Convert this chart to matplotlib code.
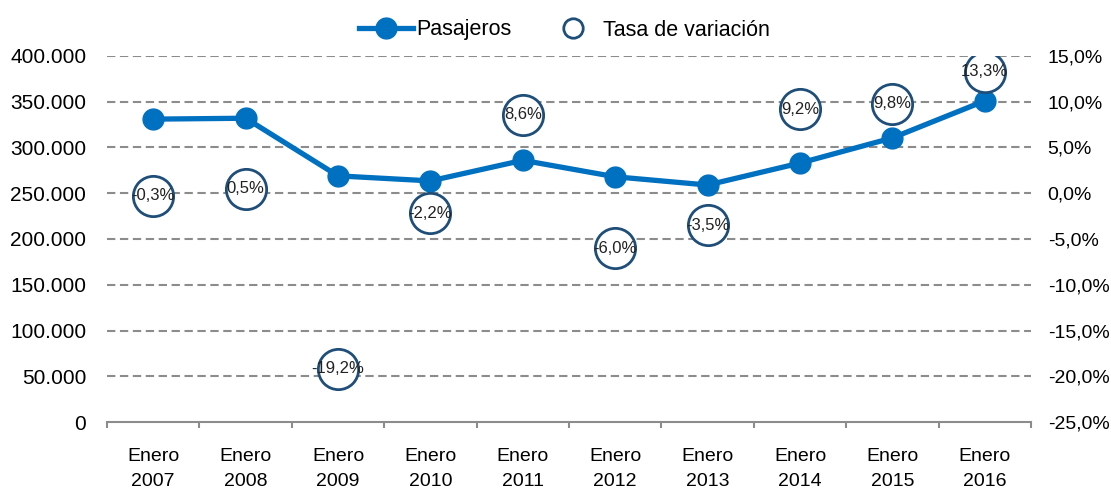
import matplotlib
matplotlib.use("Agg")
import matplotlib.pyplot as plt
from matplotlib.ticker import FuncFormatter, FixedLocator
from matplotlib.lines import Line2D

# Data
years = ["2007", "2008", "2009", "2010", "2011", "2012", "2013", "2014", "2015", "2016"]
pasajeros = [331000, 332000, 269000, 263500, 286000, 268000, 259000, 283000, 310500, 351000]
tasa = [-0.3, 0.5, -19.2, -2.2, 8.6, -6.0, -3.5, 9.2, 9.8, 13.3]
tasa_labels = ["-0,3%", "0,5%", "-19,2%", "-2,2%", "8,6%", "-6,0%", "-3,5%", "9,2%", "9,8%", "13,3%"]

plt.rcParams['font.family'] = ['Liberation Sans', 'DejaVu Sans']

blue = '#0070C0'
navy = '#1F4E79'
grid_grey = '#8C8C8C'

fig = plt.figure(figsize=(11.11, 4.88), dpi=100)
ax = fig.add_axes([107 / 1111, 1 - 422 / 488, 924 / 1111, 366 / 488])
ax2 = ax.twinx()

x = list(range(len(years)))

# left axis: passengers
ax.set_xlim(-0.5, len(years) - 0.5)
ax.set_ylim(0, 400000)
ax.set_yticks(range(0, 400001, 50000))
ax.yaxis.set_major_formatter(FuncFormatter(lambda v, p: f"{int(v):,}".replace(",", ".")))
for v in range(50000, 400001, 50000):
    ax.axhline(v, color=grid_grey, lw=1.5, ls=(0, (4, 2.2)), zorder=0)

ax.plot(x, pasajeros, color=blue, lw=3.8, marker='o', markersize=15, zorder=3)

# right axis: variation rate
ax2.set_ylim(-25, 15)
ax2.set_yticks(range(-25, 16, 5))
ax2.yaxis.set_major_formatter(FuncFormatter(lambda v, p: f"{v:.1f}%".replace(".", ",")))
ax2.plot(x, tasa, ls='none', marker='o', markersize=29, markerfacecolor='white',
         markeredgecolor=navy, markeredgewidth=2, zorder=2)
for xi, t, lab in zip(x, tasa, tasa_labels):
    ax2.text(xi, t, lab, ha='center', va='center', fontsize=12, color='#222222', zorder=4)

# x axis with ticks between the categories
ax.set_xticks(x)
ax.set_xticklabels([f"Enero\n{y}" for y in years], fontsize=14, linespacing=1.6)
ax.xaxis.set_minor_locator(FixedLocator([i - 0.5 for i in range(len(years) + 1)]))
ax.tick_params(axis='x', which='major', length=0, pad=19)
ax.tick_params(axis='x', which='minor', length=4, color=grid_grey, width=1.5)
ax.tick_params(axis='y', length=0, labelsize=15, pad=15)
ax2.tick_params(axis='y', length=0, labelsize=14, pad=12)

for a in (ax, ax2):
    for s in ('top', 'left', 'right', 'bottom'):
        a.spines[s].set_visible(False)
ax.spines['bottom'].set_visible(True)
ax.spines['bottom'].set_color(grid_grey)
ax.spines['bottom'].set_linewidth(1.5)

handles = [
    Line2D([], [], color=blue, lw=3.8, marker='o', markersize=15),
    Line2D([], [], ls='none', marker='o', markersize=14, markerfacecolor='white',
           markeredgecolor=navy, markeredgewidth=2),
]
fig.legend(handles, ["Pasajeros", "Tasa de variación"], loc='center',
           bbox_to_anchor=(0.508, 1 - 30 / 488), ncol=2, frameon=False,
           fontsize=15.5, handlelength=2.5, columnspacing=1.6, handletextpad=0.15)

fig.savefig("out.png", dpi=100)
